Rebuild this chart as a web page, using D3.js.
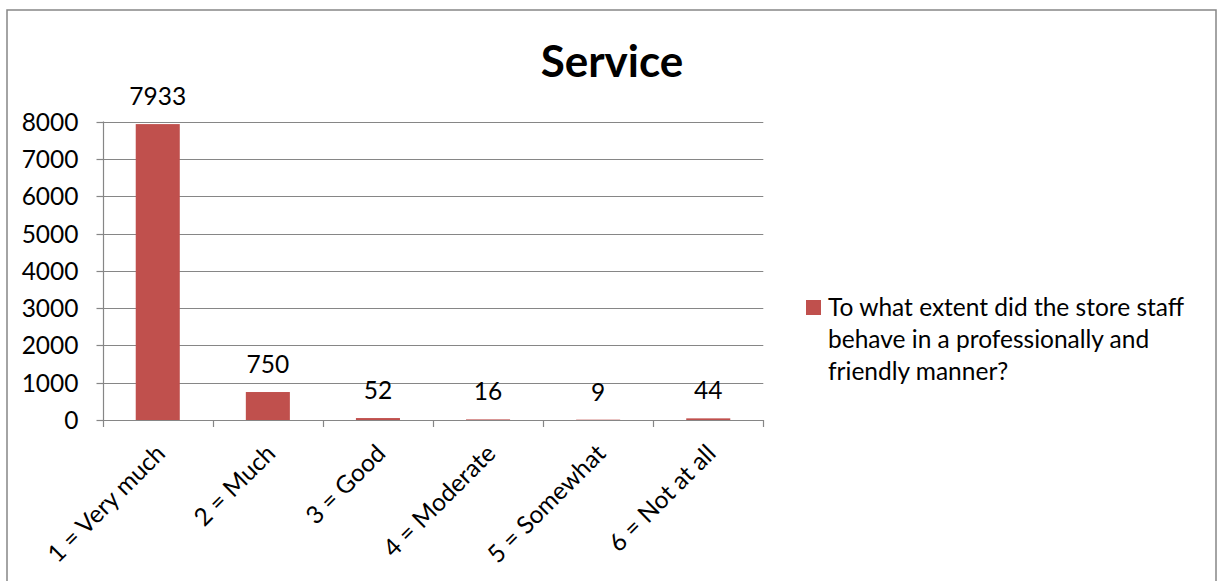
<!DOCTYPE html>
<html><head><meta charset="utf-8">
<script src="https://cdn.jsdelivr.net/npm/d3@7"></script>
<style>
html,body{margin:0;padding:0;background:#fff;}
svg{display:block;font-family:Lato,"Open Sans",sans-serif;}
</style></head><body>
<svg id="c" width="1218" height="581"></svg>
<script>
const title = "Service";
const categories = ["1 = Very much","2 = Much","3 = Good","4 = Moderate","5 = Somewhat","6 = Not at all"];
const values = [7933, 750, 52, 16, 9, 44];
const yTicks = [0,1000,2000,3000,4000,5000,6000,7000,8000];
const legendLines = ["To what extent did the store staff","behave in a professionally and","friendly manner?"];

const svg = d3.select("#c");
const barColor = "#C0504D", gridColor = "#868686";
const fs = 24.5;

svg.append("rect").attr("x",7).attr("y",10).attr("width",1209).attr("height",620)
  .attr("fill","#fff").attr("stroke",gridColor).attr("stroke-width",1.5);

const left = 102.7, right = 763.3, yBottom = 420, yTop = 121.6;
const x = d3.scaleBand().domain(categories).range([left,right]).paddingInner(0.6).paddingOuter(0.3);
const y = d3.scaleLinear().domain([0,8000]).range([yBottom,yTop]);
const step = x.step();
const edge = i => x(categories[0]) - step*0.3 + i*step;

// gridlines
svg.append("g").selectAll("line").data(yTicks.filter(d=>d>0)).join("line")
  .attr("x1",left).attr("x2",right).attr("y1",d=>Math.round(y(d))+0.5).attr("y2",d=>Math.round(y(d))+0.5)
  .attr("stroke",gridColor).attr("stroke-width",1.2);

// y axis
const yAxis = d3.axisLeft(y).tickValues(yTicks).tickSize(7).tickPadding(18).tickFormat(d3.format("d"));
const gy = svg.append("g").attr("transform",`translate(${Math.round(left)+0.5},0)`).call(yAxis);
gy.selectAll("path,line").attr("stroke",gridColor).attr("stroke-width",1.2);
gy.select(".domain").attr("d",`M0,${yBottom}V${yTop}`);
gy.selectAll(".tick").attr("transform",d=>`translate(0,${Math.round(y(d))+0.5})`);
gy.selectAll("text").attr("font-size",fs).attr("fill","#000").attr("font-family","Lato").attr("dy","0.36em");

// bars
svg.append("g").selectAll("rect").data(values).join("rect")
  .attr("x",(d,i)=>x(categories[i])).attr("width",x.bandwidth())
  .attr("y",d=>y(d)).attr("height",d=>yBottom-y(d)).attr("fill",barColor);

// x axis line and ticks
const gx = svg.append("g");
gx.append("line").attr("x1",left).attr("x2",right).attr("y1",yBottom+0.5).attr("y2",yBottom+0.5).attr("stroke",gridColor).attr("stroke-width",1.2);
gx.selectAll("line.t").data(d3.range(categories.length+1)).join("line").attr("class","t")
  .attr("x1",i=>Math.round(edge(i))+0.5).attr("x2",i=>Math.round(edge(i))+0.5)
  .attr("y1",yBottom).attr("y2",yBottom+7).attr("stroke",gridColor).attr("stroke-width",1.2);

// x labels
gx.selectAll("text").data(categories).join("text")
  .attr("transform",d=>`translate(${x(d)+x.bandwidth()/2+9},${yBottom+35}) rotate(-45)`)
  .attr("text-anchor","end").attr("font-size",fs).attr("fill","#000").text(d=>d);

// data labels
svg.append("g").selectAll("text").data(values).join("text")
  .attr("x",(d,i)=>x(categories[i])+x.bandwidth()/2).attr("y",d=>y(d)-19)
  .attr("text-anchor","middle").attr("font-size",fs).attr("fill","#000").text(d=>d);

// title
svg.append("text").attr("x",612).attr("y",77).attr("text-anchor","middle")
  .attr("font-size",44).attr("font-weight","bold").attr("fill","#000").text(title);

// legend
const lg = svg.append("g");
lg.append("rect").attr("x",806).attr("y",300).attr("width",15).attr("height",15).attr("fill",barColor);
lg.selectAll("text").data(legendLines).join("text")
  .attr("x",828).attr("y",(d,i)=>315.7+i*32.2).attr("font-size",fs).attr("fill","#000").text(d=>d);
</script>
</body></html>
